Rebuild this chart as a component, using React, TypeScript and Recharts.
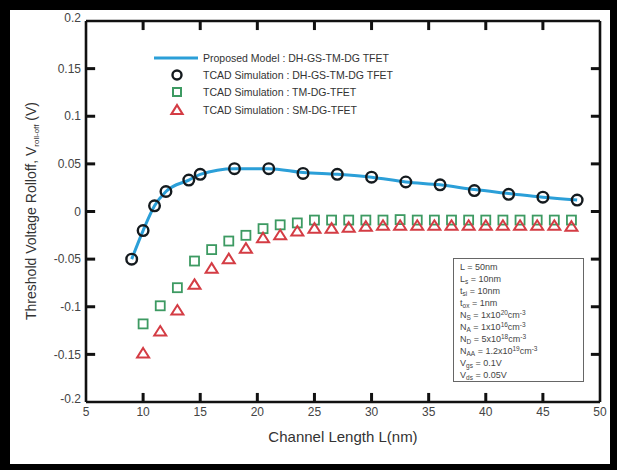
import React from 'react'
import { ComposedChart, Line, Scatter, XAxis, YAxis, ReferenceLine } from 'recharts'

// proposed model and TCAD (DH-GS-TM-DG TFET)
const dhL = [9, 10, 11, 12, 14, 15, 18, 21, 24, 27, 30, 33, 36, 39, 42, 45, 48]
const modelV = [-0.05, -0.02, 0.006, 0.021, 0.033, 0.039, 0.045, 0.045, 0.041, 0.039, 0.036, 0.031, 0.028, 0.023, 0.019, 0.015, 0.012]
const dhTcadV = [-0.05, -0.02, 0.006, 0.021, 0.033, 0.039, 0.045, 0.045, 0.04, 0.039, 0.036, 0.031, 0.028, 0.022, 0.018, 0.015, 0.012]

// TM-DG and SM-DG TCAD points
const simL = [10, 11.5, 13, 14.5, 16, 17.5, 19, 20.5, 22, 23.5, 25, 26.5, 28, 29.5, 31, 32.5, 34, 35.5, 37, 38.5, 40, 41.5, 43, 44.5, 46, 47.5]
const tmDgV = [-0.118, -0.099, -0.08, -0.052, -0.04, -0.031, -0.025, -0.018, -0.014, -0.012, -0.009, -0.009, -0.009, -0.009, -0.009, -0.0085, -0.009, -0.009, -0.009, -0.009, -0.009, -0.009, -0.009, -0.009, -0.009, -0.009]
const smDgV = [-0.149, -0.126, -0.104, -0.077, -0.06, -0.05, -0.039, -0.028, -0.025, -0.021, -0.018, -0.018, -0.017, -0.016, -0.015, -0.015, -0.015, -0.015, -0.015, -0.015, -0.015, -0.015, -0.015, -0.015, -0.015, -0.016]

const xTicks = [5, 10, 15, 20, 25, 30, 35, 40, 45, 50]
const yTicks = [-0.2, -0.15, -0.1, -0.05, 0, 0.05, 0.1, 0.15, 0.2]

const toPts = (xs: number[], ys: number[]) => xs.map((x, i) => ({ x, y: ys[i] }))

const X0 = 5
const X1 = 50
const Y0 = -0.2
const Y1 = 0.2
// inward tick length in data units (about 9px each way)
const TX = 0.8
const TY = 0.0095

const PL = 86
const PR = 600
const PT = 21
const PB = 402
const AX = '#111'
const TXT = '#444'
const FONT = '"Liberation Sans", Arial, sans-serif'

const BLUE = '#2b9fd8'
const GREEN = '#3d9a62'
const RED = '#d43c44'

function YTick({ y, payload }: any) {
    const v = payload.value
    const edge = v === Y1 || v === Y0
    return (
        <text x={PL - 5} y={edge ? y - 3 : y} dy="0.35em" textAnchor="end" fontSize={12} fill={TXT} fontFamily={FONT}>
            {String(v)}
        </text>
    )
}

function XTick({ x, payload }: any) {
    return (
        <text x={x} y={PB + 5} dy="0.71em" textAnchor="middle" fontSize={12} fill={TXT} fontFamily={FONT}>
            {String(payload.value)}
        </text>
    )
}

const circleShape = (p: any) => <circle cx={p.cx} cy={p.cy} r={5.3} fill="none" stroke="#141a1e" strokeWidth={2.4} />
const squareShape = (p: any) => <rect x={p.cx - 4.5} y={p.cy - 4.5} width={9} height={9} fill="none" stroke={GREEN} strokeWidth={1.8} />
const triShape = (p: any) => (
    <path d={`M${p.cx},${p.cy - 5.5} L${p.cx + 6},${p.cy + 4} L${p.cx - 6},${p.cy + 4} Z`} fill="none" stroke={RED} strokeWidth={2} />
)

const legendRows = [
    { label: 'Proposed Model : DH-GS-TM-DG TFET', kind: 'line' },
    { label: 'TCAD Simulation : DH-GS-TM-DG TFET', kind: 'circle' },
    { label: 'TCAD Simulation : TM-DG-TFET', kind: 'square' },
    { label: 'TCAD Simulation : SM-DG-TFET', kind: 'tri' },
]
const legendY = [58, 75, 92, 110]

function LegendMark({ kind }: { kind: string }) {
    return (
        <svg width={46} height={16} style={{ position: 'absolute', left: 154, top: -8 }}>
            {kind === 'line' && <line x1={0} x2={44} y1={8} y2={8} stroke={BLUE} strokeWidth={3} />}
            {kind === 'circle' && <circle cx={23} cy={8} r={4.5} fill="none" stroke="#141a1e" strokeWidth={2.4} />}
            {kind === 'square' && <rect x={19} y={4} width={8} height={8} fill="none" stroke={GREEN} strokeWidth={2} />}
            {kind === 'tri' && <path d="M23,3 L28.5,12 L17.5,12 Z" fill="none" stroke={RED} strokeWidth={2.2} />}
        </svg>
    )
}

const Sub = ({ children }: any) => <span style={{ fontSize: 6.5, position: 'relative', top: 2 }}>{children}</span>
const Sup = ({ children }: any) => <span style={{ fontSize: 6.5, position: 'relative', top: -3 }}>{children}</span>

const params = [
    <>L = 50nm</>,
    <>L<Sub>s</Sub> = 10nm</>,
    <>t<Sub>si</Sub> = 10nm</>,
    <>t<Sub>ox</Sub> = 1nm</>,
    <>N<Sub>S</Sub> = 1x10<Sup>20</Sup>cm<Sup>-3</Sup></>,
    <>N<Sub>A</Sub> = 1x10<Sup>16</Sup>cm<Sup>-3</Sup></>,
    <>N<Sub>D</Sub> = 5x10<Sup>18</Sup>cm<Sup>-3</Sup></>,
    <>N<Sub>AA</Sub> = 1.2x10<Sup>19</Sup>cm<Sup>-3</Sup></>,
    <>V<Sub>gs</Sub> = 0.1V</>,
    <>V<Sub>ds</Sub> = 0.05V</>,
]

const axisLineStyle = { stroke: AX, strokeWidth: 2.6 }

export default function App() {
    const modelPts = toPts(dhL, modelV)
    const innerY = yTicks.filter(v => v !== Y0 && v !== Y1)
    const innerX = xTicks.filter(v => v !== X0 && v !== X1)
    return (
        <div style={{ position: 'absolute', left: 0, top: 0, width: 617, height: 470, background: '#000', fontFamily: FONT }}>
            <div style={{ position: 'absolute', left: 10, top: 10, width: 600, height: 454, background: '#fff' }} />
            <div style={{ position: 'absolute', left: 0, top: 0 }}>
                <ComposedChart width={617} height={470} margin={{ top: PT, right: 617 - PR, bottom: 470 - PB - 30, left: PL - 60 }}>
                    <XAxis
                        type="number"
                        dataKey="x"
                        domain={[X0, X1]}
                        ticks={xTicks}
                        interval={0}
                        height={30}
                        axisLine={axisLineStyle}
                        tickLine={false}
                        tick={<XTick />}
                        allowDataOverflow
                    />
                    <YAxis
                        type="number"
                        dataKey="y"
                        domain={[Y0, Y1]}
                        ticks={yTicks}
                        interval={0}
                        width={60}
                        axisLine={axisLineStyle}
                        tickLine={false}
                        tick={<YTick />}
                        allowDataOverflow
                    />
                    <ReferenceLine y={Y1} stroke={AX} strokeWidth={2.6} />
                    <ReferenceLine x={X1} stroke={AX} strokeWidth={2.6} />
                    {innerY.map(v => (
                        <ReferenceLine key={`l${v}`} segment={[{ x: X0, y: v }, { x: X0 + TX, y: v }]} stroke={AX} strokeWidth={3} />
                    ))}
                    {innerY.map(v => (
                        <ReferenceLine key={`r${v}`} segment={[{ x: X1 - TX, y: v }, { x: X1, y: v }]} stroke={AX} strokeWidth={3} />
                    ))}
                    {innerX.map(v => (
                        <ReferenceLine key={`b${v}`} segment={[{ x: v, y: Y0 }, { x: v, y: Y0 + TY }]} stroke={AX} strokeWidth={3} />
                    ))}
                    {innerX.map(v => (
                        <ReferenceLine key={`t${v}`} segment={[{ x: v, y: Y1 - TY }, { x: v, y: Y1 }]} stroke={AX} strokeWidth={3} />
                    ))}
                    <Line
                        data={modelPts}
                        dataKey="y"
                        type="monotone"
                        stroke={BLUE}
                        strokeWidth={3}
                        dot={false}
                        activeDot={false}
                        isAnimationActive={false}
                    />
                    <Scatter data={toPts(dhL, dhTcadV)} dataKey="y" shape={circleShape} isAnimationActive={false} />
                    <Scatter data={toPts(simL, tmDgV)} dataKey="y" shape={squareShape} isAnimationActive={false} />
                    <Scatter data={toPts(simL, smDgV)} dataKey="y" shape={triShape} isAnimationActive={false} />
                </ComposedChart>
            </div>

            {legendRows.map((r, i) => (
                <div key={r.label} style={{ position: 'absolute', left: 0, top: legendY[i] }}>
                    <LegendMark kind={r.kind} />
                    <div style={{ position: 'absolute', left: 203, top: -7, whiteSpace: 'nowrap', fontSize: 10.5, color: '#333', lineHeight: '14px' }}>
                        {r.label}
                    </div>
                </div>
            ))}

            <div
                style={{
                    position: 'absolute',
                    left: 453,
                    top: 258,
                    width: 131,
                    height: 124,
                    border: '1px solid #666',
                    background: '#fff',
                    padding: '2px 0 0 6px',
                    boxSizing: 'border-box',
                    fontSize: 9,
                    lineHeight: '12px',
                    color: '#444',
                }}
            >
                {params.map((p, i) => (
                    <div key={i} style={{ whiteSpace: 'nowrap', height: 12 }}>{p}</div>
                ))}
            </div>

            <div
                style={{
                    position: 'absolute',
                    left: PL,
                    width: PR - PL,
                    top: 428,
                    textAlign: 'center',
                    fontSize: 15,
                    color: '#333',
                }}
            >
                Channel Length L(nm)
            </div>
            <div
                style={{
                    position: 'absolute',
                    left: 31,
                    top: 211,
                    transform: 'translate(-50%, -50%) rotate(-90deg)',
                    whiteSpace: 'nowrap',
                    fontSize: 14,
                    color: '#333',
                }}
            >
                Threshold Voltage Rolloff, V<span style={{ fontSize: 8, position: 'relative', top: 3 }}>roll-off</span> (V)
            </div>
        </div>
    )
}
